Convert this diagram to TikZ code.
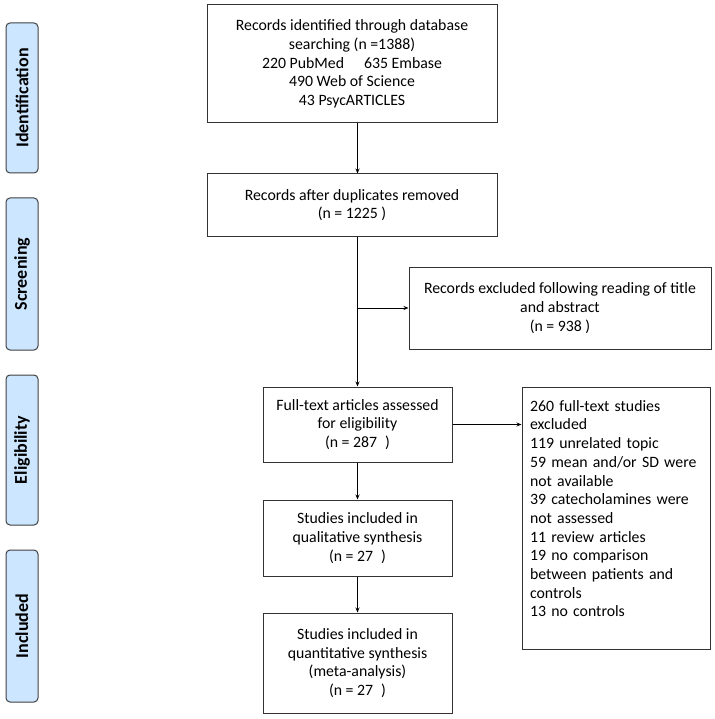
\documentclass[tikz,border=0pt]{standalone}
\usepackage{fontspec}
\setmainfont{Carlito}
\usetikzlibrary{arrows.meta,positioning}
\definecolor{stageblue}{RGB}{204,230,255}

\begin{document}
\begin{tikzpicture}[x=1pt,y=-1pt,
  box/.style={draw=black!80,line width=1pt,rectangle,align=center,inner sep=2pt,font=\fontsize{15.8}{18.7}\selectfont},
  stage/.style={draw=black!75,line width=1pt,fill=stageblue,rounded corners=4pt,rotate=90,minimum height=32pt,inner sep=2pt,font=\fontsize{18}{20}\selectfont\bfseries},
  flow/.style={-{Stealth[length=5pt,width=4pt]},line width=1pt}]
\useasboundingbox (0,0) rectangle (714,719);
% phases on the left
\node[stage,minimum width=150pt] (ident) at (22,98) {Identification};
\node[stage,minimum width=152pt] (screen) at (22,274) {Screening};
\node[stage,minimum width=150pt] (elig) at (22,450) {Eligibility};
\node[stage,minimum width=152pt] (incl) at (22,626) {Included};
% flow boxes
\node[box,minimum width=290pt,minimum height=118pt] (search) at (352,64) {Records identified through database\\ searching (n =1388)\\ 220 PubMed\hspace{20pt}635 Embase\\ 490 Web of Science\\ 43 PsycARTICLES};
\node[box,minimum width=290pt,minimum height=62pt] (dedup) at (352,205) {Records after duplicates removed\\ (n = 1225 )};
\node[box,minimum width=302pt,minimum height=82pt] (excl) at (560,308) {Records excluded following reading of title\\ and abstract\\ (n = 938 )};
\node[box,minimum width=189pt,minimum height=75pt] (full) at (357.5,424.5) {Full-text articles assessed\\ for eligibility\\ (n = 287\hspace{8pt})};
\node[box,minimum width=189pt,minimum height=76pt] (qual) at (357.5,538) {Studies included in\\ qualitative synthesis\\ (n = 27\hspace{8pt})};
\node[box,minimum width=189pt,minimum height=100pt] (quant) at (357.5,663) {Studies included in\\ quantitative synthesis\\ (meta-analysis)\\ (n = 27\hspace{8pt})};
\node[box,align=left,text width=172pt,minimum width=188pt,minimum height=262pt] (reasons) at (616,518) {260 full-text studies\\ excluded\\ 119 unrelated topic\\ 59 mean and/or SD were\\ not available\\ 39 catecholamines were\\ not assessed\\ 11 review articles\\ 19 no comparison\\ between patients and\\ controls\\ 13 no controls\\ \mbox{}};
% arrows
\draw[flow] (search.south -| full.north) -- (dedup.north -| full.north);
\draw[flow] (dedup.south -| full.north) -- (full.north);
\draw[flow] (full.north |- excl.west) -- (excl.west);
\draw[flow] (full.east) -- (full.east -| reasons.west);
\draw[flow] (full) -- (qual);
\draw[flow] (qual) -- (quant);
\end{tikzpicture}
\end{document}
